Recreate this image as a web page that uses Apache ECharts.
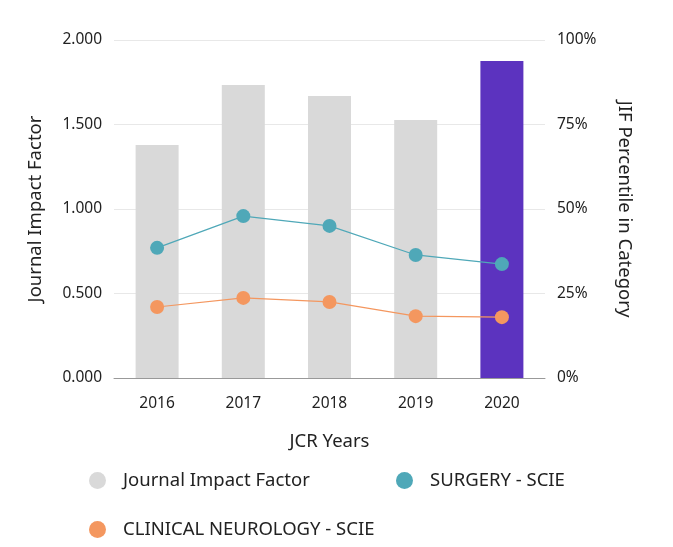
<!DOCTYPE html>
<html><head><meta charset="utf-8">
<script src="https://cdn.jsdelivr.net/npm/echarts@6/dist/echarts.min.js"></script>
<style>html,body{margin:0;padding:0;background:#fff}#c{width:673px;height:547px}</style>
</head><body><div id="c"></div>
<script>
const years = ['2016', '2017', '2018', '2019', '2020'];
const jif = [1.379, 1.734, 1.669, 1.527, 1.876];
const surgery = [38.5, 47.9, 45.0, 36.4, 33.7];
const neurology = [21.0, 23.7, 22.5, 18.3, 18.0];
const leftTicks = [0, 0.5, 1, 1.5, 2];
const rightTicks = [0, 25, 50, 75, 100];

const font = '"Noto Sans", sans-serif';
const chart = echarts.init(document.getElementById('c'));
const legendText = {fontSize: 18.5, color: '#222', fontFamily: font, padding: [0, 0, 0, 12]};
chart.setOption({
  animation: false,
  grid: {left: 114, right: 128, top: 40, bottom: 169},
  legend: [
    {data: ['Journal Impact Factor'], left: 84, top: 466, icon: 'circle', itemWidth: 17, itemHeight: 17, textStyle: legendText},
    {data: ['SURGERY - SCIE'], left: 391, top: 466, icon: 'circle', itemWidth: 17, itemHeight: 17, textStyle: legendText},
    {data: ['CLINICAL NEUROLOGY - SCIE'], left: 84, top: 515, icon: 'circle', itemWidth: 17, itemHeight: 17, textStyle: legendText}
  ],
  xAxis: {
    type: 'category', data: years,
    name: 'JCR Years', nameLocation: 'middle', nameGap: 54,
    nameTextStyle: {fontSize: 18.5, color: '#222', fontFamily: font},
    axisLine: {lineStyle: {color: '#999'}},
    axisTick: {show: false},
    axisLabel: {fontSize: 15.5, color: '#222', fontFamily: font, margin: 18}
  },
  yAxis: [
    {type: 'value', min: leftTicks[0], max: leftTicks[leftTicks.length-1], interval: 0.5,
     name: 'Journal Impact Factor', nameLocation: 'middle', nameGap: 69,
     nameTextStyle: {fontSize: 18.5, color: '#222', fontFamily: font},
     axisLine: {show: false}, axisTick: {show: false},
     axisLabel: {fontSize: 15.5, color: '#222', fontFamily: font, margin: 12, formatter: v => v.toFixed(3)},
     splitLine: {lineStyle: {color: '#e8e8e8'}}},
    {type: 'value', min: rightTicks[0], max: rightTicks[rightTicks.length-1], interval: 25,
     name: 'JIF Percentile in Category', nameLocation: 'middle', nameGap: 70, nameRotate: -90,
     nameTextStyle: {fontSize: 18.5, color: '#222', fontFamily: font},
     axisLine: {show: false}, axisTick: {show: false},
     axisLabel: {fontSize: 15.5, color: '#222', fontFamily: font, margin: 12, formatter: v => v + '%'},
     splitLine: {show: false}}
  ],
  series: [
    {name: 'Journal Impact Factor', type: 'bar', barWidth: 43, yAxisIndex: 0,
     itemStyle: {color: '#d9d9d9'},
     data: jif.map((v, i) => i === jif.length - 1 ? {value: v, itemStyle: {color: '#5c33bf'}} : v)},
    {name: 'SURGERY - SCIE', type: 'line', yAxisIndex: 1, data: surgery,
     symbol: 'circle', symbolSize: 14, itemStyle: {color: '#4fa8b8'}, lineStyle: {width: 1.2, color: '#4fa8b8'}},
    {name: 'CLINICAL NEUROLOGY - SCIE', type: 'line', yAxisIndex: 1, data: neurology,
     symbol: 'circle', symbolSize: 14, itemStyle: {color: '#f4975f'}, lineStyle: {width: 1.2, color: '#f4975f'}}
  ]
});
</script></body></html>
